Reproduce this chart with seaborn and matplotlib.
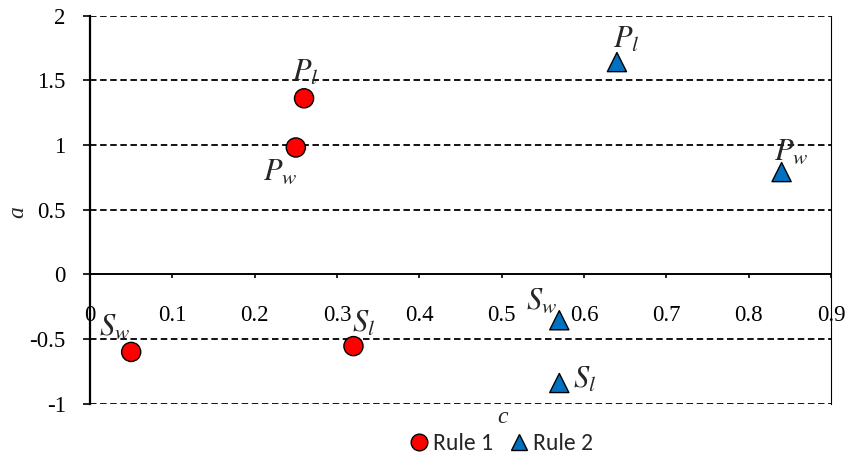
import matplotlib
matplotlib.use("Agg")
import matplotlib.pyplot as plt
import seaborn as sns
import pandas as pd
from matplotlib import font_manager as fm

# ---- data ----
rule1_c = [0.26, 0.25, 0.05, 0.32]
rule1_a = [1.36, 0.98, -0.60, -0.555]
rule1_labels = ["P_l", "P_w", "S_w", "S_l"]

rule2_c = [0.64, 0.84, 0.57, 0.57]
rule2_a = [1.64, 0.79, -0.355, -0.84]
rule2_labels = ["P_l", "P_w", "S_w", "S_l"]

series_names = ["Rule 1", "Rule 2"]
x_ticks = [0, 0.1, 0.2, 0.3, 0.4, 0.5, 0.6, 0.7, 0.8, 0.9]
y_ticks = [-1, -0.5, 0, 0.5, 1, 1.5, 2]
x_title = "c"
y_title = "a"

# label offsets (pixels) relative to the marker
rule1_offsets = [(1, 26), (-16, -24), (-17, 25), (10, 23)]
rule2_offsets = [(9, 23), (10, 21), (-18, 20), (25, 4)]

df = pd.DataFrame({
    "c": rule1_c + rule2_c,
    "a": rule1_a + rule2_a,
    "rule": [series_names[0]] * len(rule1_c) + [series_names[1]] * len(rule2_c),
    "label": rule1_labels + rule2_labels,
})

sns.set_style("white")
plt.rcParams["mathtext.fontset"] = "stix"


def font_file(name, style="normal"):
    best = None
    for f in fm.fontManager.ttflist:
        if f.name == name and f.style == style:
            w = f.weight if isinstance(f.weight, int) else 400
            if best is None or abs(w - 400) < abs(best[0] - 400):
                best = (w, f.fname)
    return best[1] if best else None


serif_path = font_file("Liberation Serif") or font_file("DejaVu Serif")
serif_it_path = font_file("Liberation Serif", "italic") or serif_path
leg_path = font_file("Carlito") or font_file("Lato") or font_file("DejaVu Sans")


def fp(path, size):
    return fm.FontProperties(fname=path, size=size)


DPI = 100
fig = plt.figure(figsize=(8.48, 4.58), dpi=DPI)
ax = fig.add_axes([90 / 848, 1 - 403.7 / 458, (831 - 90) / 848, (403.7 - 15.5) / 458])

# gridlines
for yv in y_ticks:
    if yv == 0:
        continue
    ax.axhline(yv, color="black", lw=1.3, ls=(0, (3.6, 2.0)), zorder=1)

sns.scatterplot(data=df, x="c", y="a", hue="rule", style="rule",
                palette={"Rule 1": "#FF0000", "Rule 2": "#0070C0"},
                markers={"Rule 1": "o", "Rule 2": "^"},
                s=190, edgecolor="black", linewidth=1.0, ax=ax, zorder=5)

ax.set_xlim(0, 0.9)
ax.set_ylim(-1, 2)

ax.spines["top"].set_visible(False)
ax.spines["bottom"].set_position(("data", 0))
ax.spines["bottom"].set_linewidth(1.4)
ax.spines["left"].set_linewidth(1.6)
ax.spines["right"].set_linewidth(0.8)
for s in ["bottom", "left", "right"]:
    ax.spines[s].set_color("black")
    ax.spines[s].set_zorder(3)

ax.tick_params(axis="x", direction="out", length=3.2, width=1.2, pad=19,
               colors="black", bottom=True)
ax.tick_params(axis="y", direction="out", length=5, width=1.2, pad=12.5,
               colors="black", left=True)

ax.set_xticks(x_ticks)
ax.set_xticklabels([f"{v:g}" for v in x_ticks])
ax.set_yticks(y_ticks)
ax.set_yticklabels([f"{v:g}" for v in y_ticks])
for lbl in ax.get_xticklabels() + ax.get_yticklabels():
    lbl.set_fontproperties(fp(serif_path, 16.5))

# point labels
px2pt = 72 / DPI
for xs, ys, labs, offs in [(rule1_c, rule1_a, rule1_labels, rule1_offsets),
                           (rule2_c, rule2_a, rule2_labels, rule2_offsets)]:
    for xv, yv, lab, (dx, dy) in zip(xs, ys, labs, offs):
        ax.annotate(f"${lab}$", (xv, yv), xytext=(dx * px2pt, dy * px2pt),
                    textcoords="offset points", ha="center", va="center",
                    fontsize=22, zorder=6)

ax.set_xlabel(x_title, fontproperties=fp(serif_it_path, 17))
ax.xaxis.set_label_coords((503 - 90) / 741, (403.7 - 407) / 388.2)
ax.set_ylabel(y_title, fontproperties=fp(serif_it_path, 17))
ax.yaxis.set_label_coords((28 - 90) / 741, (403.7 - 212) / 388.2)

# legend
handles, labels = ax.get_legend_handles_labels()
ax.legend_.remove()
leg = fig.legend(handles, labels, loc="center", bbox_to_anchor=(500 / 848, 1 - 444 / 458),
                 ncol=2, frameon=False, columnspacing=0.6, handletextpad=0.1,
                 handlelength=1.0, prop=fp(leg_path, 17))
for h in leg.legend_handles:
    if hasattr(h, "set_markersize"):
        h.set_markersize(12)
        h.set_markeredgecolor("black")
        h.set_markeredgewidth(1.0)

fig.savefig("out.png", dpi=DPI)
